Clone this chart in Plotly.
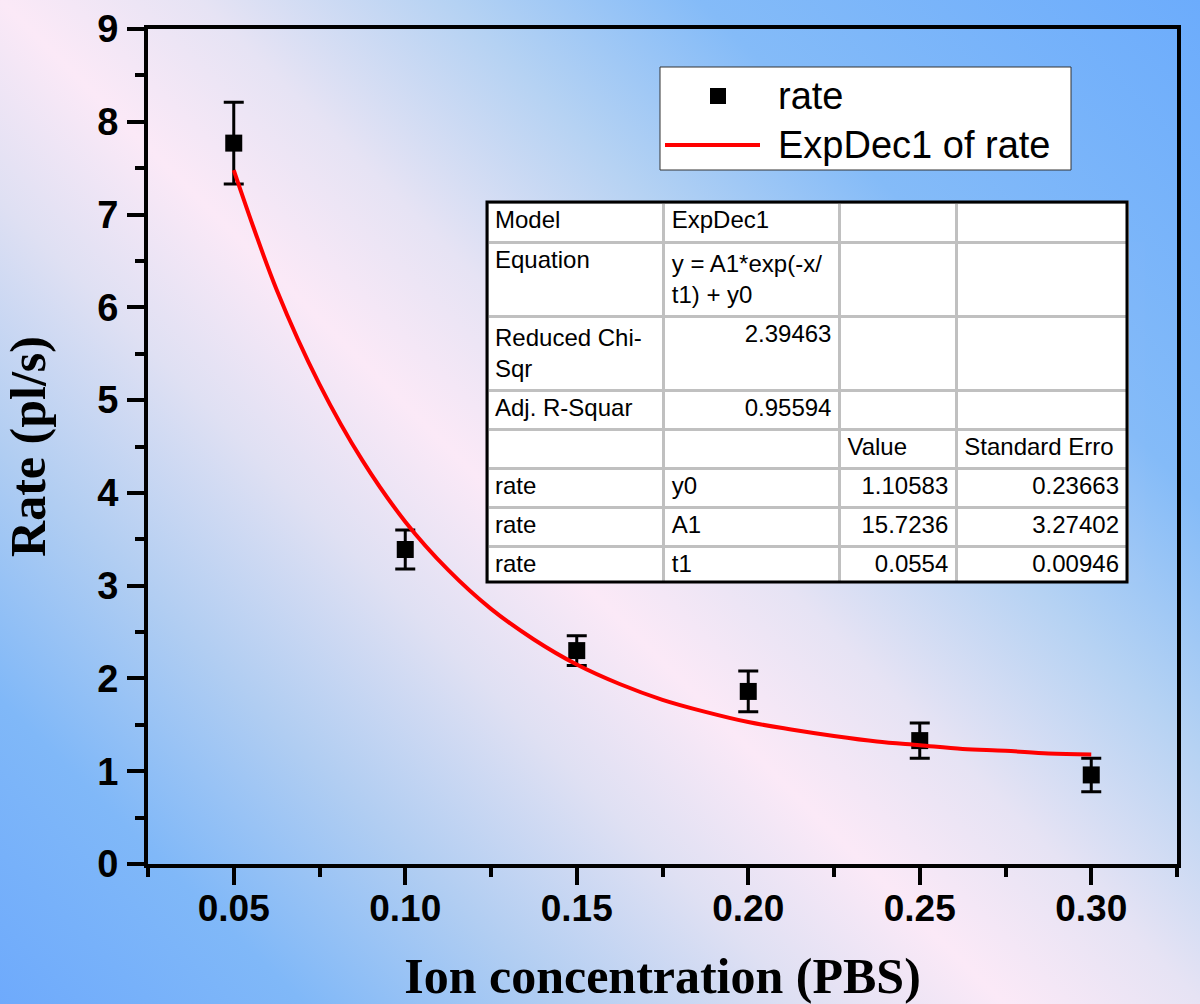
import base64
import plotly.graph_objects as go

# ---------------- data ----------------
ion_conc = [0.05, 0.10, 0.15, 0.20, 0.25, 0.30]
rate = [7.77, 3.39, 2.30, 1.86, 1.33, 0.96]
rate_err = [0.44, 0.21, 0.16, 0.22, 0.19, 0.18]

fit_x = [0.05, 0.0625, 0.075, 0.0875, 0.10, 0.1125, 0.125, 0.1375, 0.15, 0.1625,
         0.175, 0.1875, 0.20, 0.2125, 0.225, 0.2375, 0.25, 0.2625, 0.275, 0.2875, 0.30]
fit_y = [7.48, 6.19, 5.17, 4.35, 3.69, 3.17, 2.75, 2.42, 2.15, 1.94,
         1.77, 1.64, 1.53, 1.45, 1.38, 1.32, 1.28, 1.24, 1.22, 1.19, 1.18]

x_ticks = [0.05, 0.10, 0.15, 0.20, 0.25, 0.30]
x_ticktext = ["0.05", "0.10", "0.15", "0.20", "0.25", "0.30"]
y_ticks = [0, 1, 2, 3, 4, 5, 6, 7, 8, 9]

table_header = ["Model", "ExpDec1", "", ""]
table_col1 = ["Equation", "Reduced Chi-<br>Sqr", "Adj. R-Squar", "", "rate", "rate", "rate"]
table_col2 = ["y = A1*exp(-x/<br>t1) + y0", "2.39463", "0.95594", "", "y0", "A1", "t1"]
table_col3 = ["", "", "", "Value", "1.10583", "15.7236", "0.0554"]
table_col4 = ["", "", "", "Standard\u00a0Erro", "0.23663", "3.27402", "0.00946"]

legend_names = ["rate", "ExpDec1 of rate"]

# ---------------- geometry ----------------
W, H = 1200, 1004
ML, MR, MT, MB = 148, 23, 29, 140
PW, PH = W - ML - MR, H - MT - MB


def px(xp):
    return (xp - ML) / PW


def py(yp):
    return (H - MB - yp) / PH


# ---------------- background gradient (SVG) ----------------
stops = [
    (0.000, "#6eaafc"), (0.138, "#80b8f8"), (0.251, "#b0cdf2"), (0.365, "#dfe0f3"),
    (0.456, "#fbe9f7"), (0.546, "#e6e3f4"), (0.660, "#b5d2f3"), (0.773, "#84bbf8"),
    (1.000, "#6cacfc"),
]
stop_xml = "".join(f'<stop offset="{o}" stop-color="{c}"/>' for o, c in stops)
svg = (f'<svg xmlns="http://www.w3.org/2000/svg" width="{W}" height="{H}" '
       f'viewBox="0 0 {W} {H}" preserveAspectRatio="none">'
       f'<defs><linearGradient id="g" gradientUnits="userSpaceOnUse" '
       f'x1="0" y1="{H}" x2="1102" y2="-98">{stop_xml}</linearGradient></defs>'
       f'<rect x="0" y="0" width="{W}" height="{H}" fill="url(#g)"/></svg>')
bg_src = "data:image/svg+xml;base64," + base64.b64encode(svg.encode()).decode()

fig = go.Figure()

# data points with error bars
fig.add_trace(go.Scatter(
    x=ion_conc, y=rate, mode="markers", name=legend_names[0], showlegend=False,
    marker=dict(symbol="square", size=17, color="black"),
    error_y=dict(type="data", array=rate_err, visible=True, color="black",
                 thickness=3, width=10),
))
# fit curve
fig.add_trace(go.Scatter(
    x=fit_x, y=fit_y, mode="lines", name=legend_names[1], showlegend=False,
    line=dict(color="#ff0000", width=4, shape="spline"),
))

# results table
col_align = [
    ["left"] * 7,
    ["left", "right", "right", "left", "left", "left", "left"],
    ["left", "left", "left", "left", "right", "right", "right"],
    ["left", "left", "left", "left", "right", "right", "right"],
]
tfont = dict(family="Liberation Sans, Arial, sans-serif", size=24, color="black")
fig.add_trace(go.Table(
    domain=dict(x=[px(487), px(1127)], y=[py(582), py(202)]),
    columnwidth=[177, 176, 117, 171],
    header=dict(values=table_header, fill_color="white", align="left",
                line=dict(color="#c0c0c0", width=3), font=tfont, height=40),
    cells=dict(values=[table_col1, table_col2, table_col3, table_col4],
               fill_color="white", align=["left", "left", "right", "right"],
               line=dict(color="#c0c0c0", width=3), font=tfont, height=39),
))
# per-cell alignment (plotly.js accepts a 2D array; bypass the 1D python validator)
fig.data[-1].cells._props["align"] = col_align

tickfont_x = dict(family="Liberation Sans, Arial", size=37, color="black", weight="bold")
tickfont_y = dict(family="Liberation Sans, Arial", size=38, color="black", weight="bold")
titlefont = dict(family="Liberation Serif, Times New Roman, serif", size=50,
                 color="black", weight="bold")

fig.update_layout(
    width=W, height=H,
    margin=dict(l=ML, r=MR, t=MT, b=MB),
    paper_bgcolor="white", plot_bgcolor="rgba(0,0,0,0)",
    template="none",
    showlegend=False,
    images=[dict(source=bg_src, xref="paper", yref="paper",
                 x=-ML / PW, y=1 + MT / PH, sizex=W / PW, sizey=H / PH,
                 xanchor="left", yanchor="top", sizing="stretch", layer="below")],
    xaxis=dict(
        range=[0.025, 0.325], tickvals=x_ticks, ticktext=x_ticktext,
        showgrid=False, zeroline=False, automargin=False,
        showline=True, linewidth=4, linecolor="black", mirror=True,
        ticks="outside", ticklen=17, tickwidth=4, tickcolor="black",
        tickfont=tickfont_x, ticklabelstandoff=-8,
        minor=dict(dtick=0.025, tick0=0.025, ticks="outside", ticklen=9,
                   tickwidth=4, tickcolor="black", showgrid=False),
        title=dict(text="Ion concentration (PBS)", font=titlefont, standoff=38),
    ),
    yaxis=dict(
        range=[0, 9], tickvals=y_ticks,
        showgrid=False, zeroline=False, automargin=False,
        showline=True, linewidth=4, linecolor="black", mirror=True,
        ticks="outside", ticklen=17, tickwidth=4, tickcolor="black",
        tickfont=tickfont_y, ticklabelstandoff=1,
        minor=dict(dtick=0.5, tick0=0, ticks="outside", ticklen=9,
                   tickwidth=4, tickcolor="black", showgrid=False),
        title=dict(text="Rate (pl/s)", font=titlefont, standoff=43),
    ),
)

# table outer border
fig.add_shape(type="rect", xref="paper", yref="paper",
              x0=px(487), x1=px(1127), y0=py(582), y1=py(202),
              line=dict(color="black", width=3), fillcolor="rgba(0,0,0,0)")

# manual legend
fig.add_shape(type="rect", xref="paper", yref="paper",
              x0=px(660), x1=px(1071), y0=py(170), y1=py(67),
              line=dict(color="#333333", width=1), fillcolor="white")
fig.add_shape(type="rect", xref="paper", yref="paper",
              x0=px(710), x1=px(726), y0=py(104), y1=py(88),
              line=dict(width=0), fillcolor="black")
fig.add_shape(type="line", xref="paper", yref="paper",
              x0=px(665), x1=px(760), y0=py(145), y1=py(145),
              line=dict(color="#ff0000", width=4))
lfont = dict(family="Liberation Sans, Arial", size=38, color="black")
for name, yp in zip(legend_names, [96, 145]):
    fig.add_annotation(text=name, xref="paper", yref="paper", x=px(776), y=py(yp),
                       xanchor="left", yanchor="middle", showarrow=False, font=lfont)

fig.write_html("out.html", config={"displayModeBar": False},
               post_script="document.body.style.margin='0';document.body.style.padding='0';")
